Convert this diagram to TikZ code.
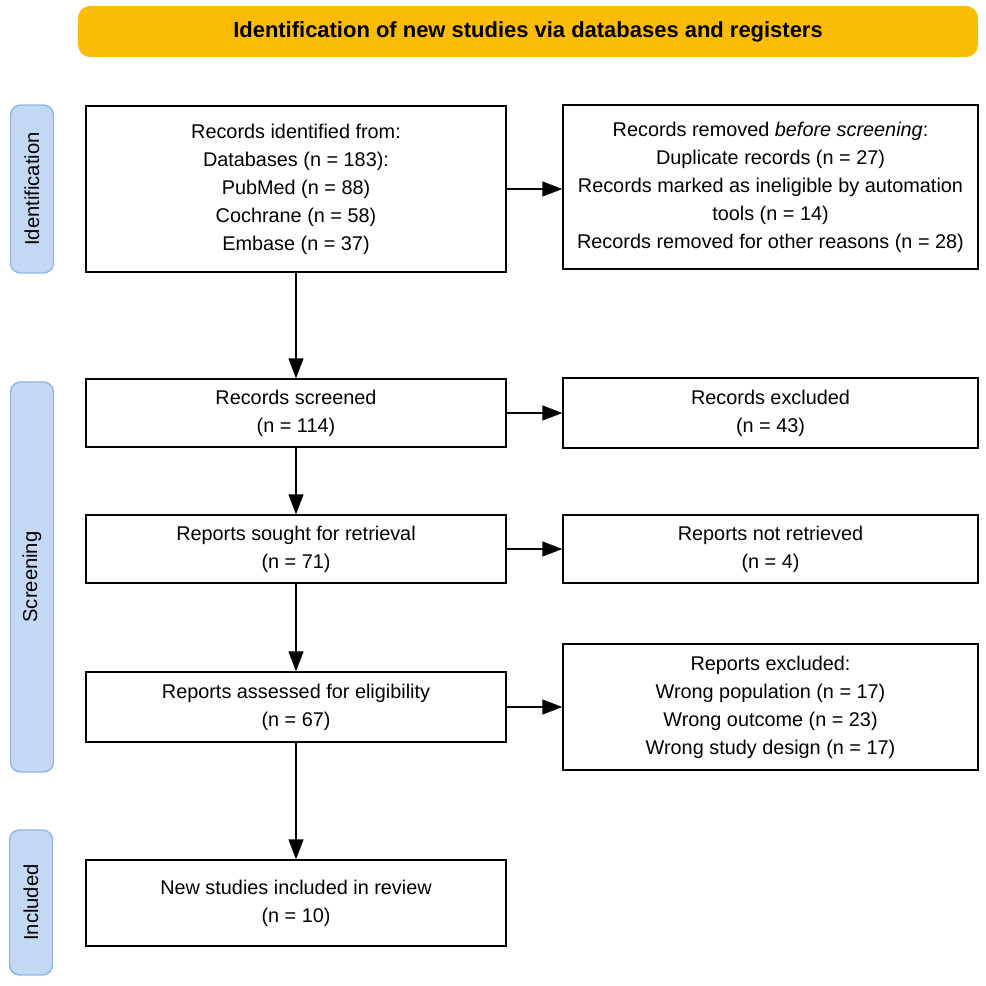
\documentclass[tikz,border=0pt]{standalone}
\usepackage{fontspec}
\setmainfont{Liberation Sans}
\usetikzlibrary{arrows.meta}
\definecolor{headfill}{HTML}{FBBC05}
\definecolor{sidefill}{HTML}{C3D8F3}
\definecolor{sideline}{HTML}{8FB5E4}

\begin{document}
\begin{tikzpicture}[x=0.02cm,y=-0.02cm,
    box/.style={draw, line width=0.8pt, align=center, inner sep=2pt, font=\fontsize{11.3}{15.9}\selectfont},
    sidebox/.style={draw=sideline, fill=sidefill, line width=0.8pt, rounded corners=0.2cm, minimum width=0.86cm},
    sidetext/.style={rotate=90, font=\fontsize{11.5}{14}\selectfont},
    arr/.style={-{Triangle[length=0.4cm,width=0.3cm]}, line width=0.8pt}]
    \useasboundingbox (0,0) rectangle (986,986) ;
    \node[fill=headfill, rounded corners=0.24cm, minimum width=18cm, minimum height=1.02cm, font=\fontsize{12.5}{14}\selectfont\bfseries] (head) at (528,31.5) {Identification of new studies via databases and registers} ;
    \node[sidebox, minimum height=3.36cm] (sideid) at (32,189) {} ;
    \node[sidetext] at (sideid) {Identification} ;
    \node[sidebox, minimum height=7.8cm] (sidescr) at (32,577) {} ;
    \node[sidetext] at (sidescr) {Screening} ;
    \node[sidebox, minimum height=2.9cm] (sideinc) at (31,902.5) {} ;
    \node[sidetext] at (sideinc) {Included} ;
    \node[box, minimum width=8.4cm, minimum height=3.32cm] (ident) at (296,189) {Records identified from:\\Databases (n = 183):\\PubMed (n = 88)\\Cochrane (n = 58)\\Embase (n = 37)} ;
    \node[box, minimum width=8.3cm, minimum height=3.28cm] (removed) at (770.5,187) {Records removed \textit{before screening}:\\Duplicate records (n = 27)\\Records marked as ineligible by automation\\tools (n = 14)\\Records removed for other reasons (n = 28)} ;
    \node[box, minimum width=8.4cm, minimum height=1.36cm] (screened) at (296,413) {Records screened\\(n = 114)} ;
    \node[box, minimum width=8.3cm, minimum height=1.4cm] (excluded) at (770.5,413) {Records excluded\\(n = 43)} ;
    \node[box, minimum width=8.4cm, minimum height=1.36cm] (sought) at (296,549) {Reports sought for retrieval\\(n = 71)} ;
    \node[box, minimum width=8.3cm, minimum height=1.36cm] (notret) at (770.5,549) {Reports not retrieved\\(n = 4)} ;
    \node[box, minimum width=8.4cm, minimum height=1.4cm] (assessed) at (296,707) {Reports assessed for eligibility\\(n = 67)} ;
    \node[box, minimum width=8.3cm, minimum height=2.52cm] (repexcl) at (770.5,707) {Reports excluded:\\Wrong population (n = 17)\\Wrong outcome (n = 23)\\Wrong study design (n = 17)} ;
    \node[box, minimum width=8.4cm, minimum height=1.72cm] (included) at (296,903) {New studies included in review\\(n = 10)} ;
    \draw[arr] (ident) -- (screened) ;
    \draw[arr] (screened) -- (sought) ;
    \draw[arr] (sought) -- (assessed) ;
    \draw[arr] (assessed) -- (included) ;
    \draw[arr] (ident.east) -- (ident.east -| removed.west) ;
    \draw[arr] (screened) -- (excluded) ;
    \draw[arr] (sought) -- (notret) ;
    \draw[arr] (assessed) -- (repexcl) ;
\end{tikzpicture}
\end{document}
